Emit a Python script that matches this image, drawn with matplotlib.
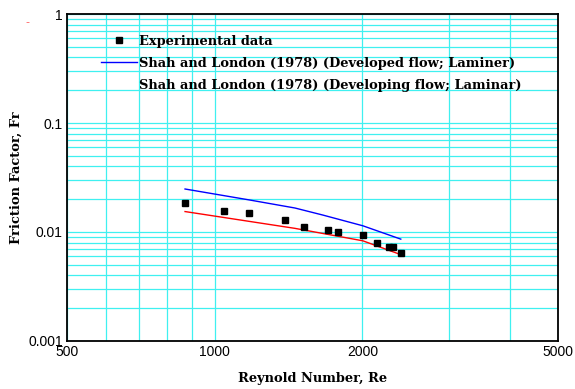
import matplotlib.pyplot as plt
from matplotlib.ticker import FixedLocator, NullFormatter, FixedFormatter

# measured friction factor vs Reynolds number
re_exp = [870, 1046, 1175, 1392, 1521, 1698, 1784, 2004, 2137, 2260, 2310, 2394]
fr_exp = [0.0186, 0.0156, 0.0150, 0.0130, 0.0110, 0.0104, 0.0099, 0.0094,
          0.0079, 0.0073, 0.0073, 0.0064]

# Shah and London (1978) correlations
re_dev = [870, 1175, 1457, 1661, 2004, 2394]
fr_dev = [0.0248, 0.0197, 0.0166, 0.0143, 0.0114, 0.0086]   # developed flow
re_devg = [870, 1457, 2004, 2394]
fr_devg = [0.0154, 0.0108, 0.0083, 0.0062]                  # developing flow

x_ticks = [500, 1000, 2000, 5000]
y_ticks = [0.001, 0.01, 0.1, 1]

grid_c = '#3ff0f0'
serif = 'DejaVu Serif'
fs = 9.4

fig = plt.figure(figsize=(5.75, 3.89), dpi=100)
ax = fig.add_axes([0.1165, 0.1234, 0.8535, 0.8406])

ax.set_xscale('log')
ax.set_yscale('log')
ax.set_xlim(500, 5000)
ax.set_ylim(0.001, 1)

ax.plot(re_exp, fr_exp, 's', color='black', ms=4.5, label='Experimental data', zorder=4)
ax.plot(re_dev, fr_dev, '-', color='blue', lw=1,
        label='Shah and London (1978) (Developed flow; Laminer)', zorder=3)
ax.plot(re_devg, fr_devg, '-', color='red', lw=1,
        label='Shah and London (1978) (Developing flow; Laminar)', zorder=3)

ax.xaxis.set_major_locator(FixedLocator(x_ticks))
ax.xaxis.set_major_formatter(FixedFormatter([str(v) for v in x_ticks]))
ax.xaxis.set_minor_locator(FixedLocator([600, 700, 800, 900, 3000, 4000]))
ax.xaxis.set_minor_formatter(NullFormatter())
ax.yaxis.set_major_locator(FixedLocator(y_ticks))
ax.yaxis.set_major_formatter(FixedFormatter(['0.001', '0.01', '0.1', '1']))
minor_y = [m * 10.0 ** k for k in (-3, -2, -1) for m in range(2, 10)]
ax.yaxis.set_minor_locator(FixedLocator(minor_y))
ax.yaxis.set_minor_formatter(NullFormatter())

ax.grid(True, which='both', color=grid_c, lw=0.9)
ax.set_axisbelow(True)
ax.tick_params(which='both', length=0, pad=3, labelsize=10)
for lab in ax.get_xticklabels() + ax.get_yticklabels():
    lab.set_family('Liberation Sans')
for sp in ax.spines.values():
    sp.set_linewidth(1.3)

ax.set_xlabel('Reynold Number, Re', family=serif, weight='bold', fontsize=fs, labelpad=9)
ax.set_ylabel('Friction Factor, Fr', family=serif, weight='bold', fontsize=fs, labelpad=4)

leg = ax.legend(loc='upper left', bbox_to_anchor=(0.069, 0.937), frameon=False,
                prop={'family': serif, 'weight': 'bold', 'size': fs},
                handlelength=2.75, handletextpad=0.15, labelspacing=0.72, borderpad=0,
                borderaxespad=0)
leg.legend_handles[2].set_visible(False)

fig.text(0.047, 0.943, '-', color='#ff6060', fontsize=8, ha='center', va='center')

fig.savefig('out.png', dpi=100)
